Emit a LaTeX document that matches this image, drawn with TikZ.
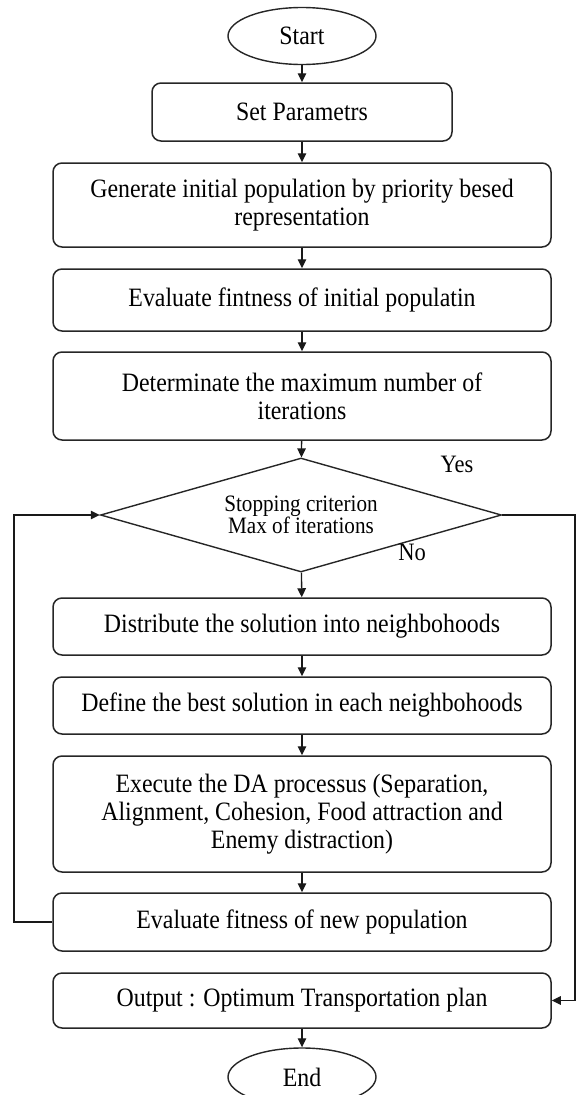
\documentclass[tikz,border=0pt]{standalone}
\usepackage{fontspec}
\setmainfont{Liberation Serif}[FakeStretch=0.9]
\usetikzlibrary{shapes.geometric,arrows.meta}
\begin{document}
\begin{tikzpicture}[x=1pt,y=-1pt,
  box/.style={draw=black!85, rounded corners=9pt, line width=1.5pt, inner sep=0pt,
    align=center, minimum width=498pt, font=\fontsize{26.5}{28}\selectfont},
  oval/.style={draw=black!85, ellipse, line width=1.4pt, inner sep=0pt,
    minimum width=148pt, font=\fontsize{26.5}{28}\selectfont},
  decision/.style={draw=black!85, diamond, aspect=3.5, line width=1.4pt, inner sep=0pt,
    align=center, font=\fontsize{23.5}{20}\selectfont},
  lbl/.style={inner sep=0pt, font=\fontsize{25}{28}\selectfont},
  arr/.style={draw=black!90, line width=1.3pt, -{Triangle[length=9pt,width=8.5pt]}}]
\useasboundingbox (0,0) rectangle (577,1095);
\node[oval, minimum height=57pt] (start) at (302,36) {Start};
\node[box, minimum width=300pt, minimum height=58pt] (set) at (302,112) {Set Parametrs};
\node[box, minimum height=84pt] (gen) at (302,205) {Generate initial population by priority besed\\representation};
\node[box, minimum height=62pt] (evi) at (302,300) {Evaluate fintness of initial populatin};
\node[box, minimum height=88pt] (det) at (302,396) {Determinate the maximum number of\\iterations};
\node[decision, minimum width=401pt, minimum height=114pt] (dec) at (301,515) {Stopping criterion\\Max of iterations};
\node[box, minimum height=57pt] (dist) at (302,626.5) {Distribute the solution into neighbohoods};
\node[box, minimum height=57pt] (def) at (302,705.5) {Define the best solution in each neighbohoods};
\node[box, minimum height=116pt] (exe) at (302,814) {Execute the DA processus (Separation,\\Alignment, Cohesion, Food attraction and\\Enemy distraction)};
\node[box, minimum height=58pt] (evn) at (302,922) {Evaluate fitness of new population};
\node[box, minimum height=55pt] (out) at (302,1000.5) {Output : Optimum Transportation plan};
\node[oval, minimum height=58pt] (end) at (302,1077) {End};
\node[lbl] (yes) at (457,464) {Yes};
\node[lbl] (no) at (412,552) {No};
\coordinate (lft) at (14,922);
\coordinate (rgt) at (575,515);
\draw[arr] (start) -- (set);
\draw[arr] (set) -- (gen);
\draw[arr] (gen) -- (evi);
\draw[arr] (evi) -- (det);
\draw[arr] (det) -- (dec);
\draw[arr] (dec) -- (dist);
\draw[arr] (dist) -- (def);
\draw[arr] (def) -- (exe);
\draw[arr] (exe) -- (evn);
\draw[arr] (out) -- (end);
\draw[arr] (evn.west) -- (lft) |- (dec.west);
\draw[arr] (dec.east) -- (rgt) |- (out.east);
\end{tikzpicture}
\end{document}
